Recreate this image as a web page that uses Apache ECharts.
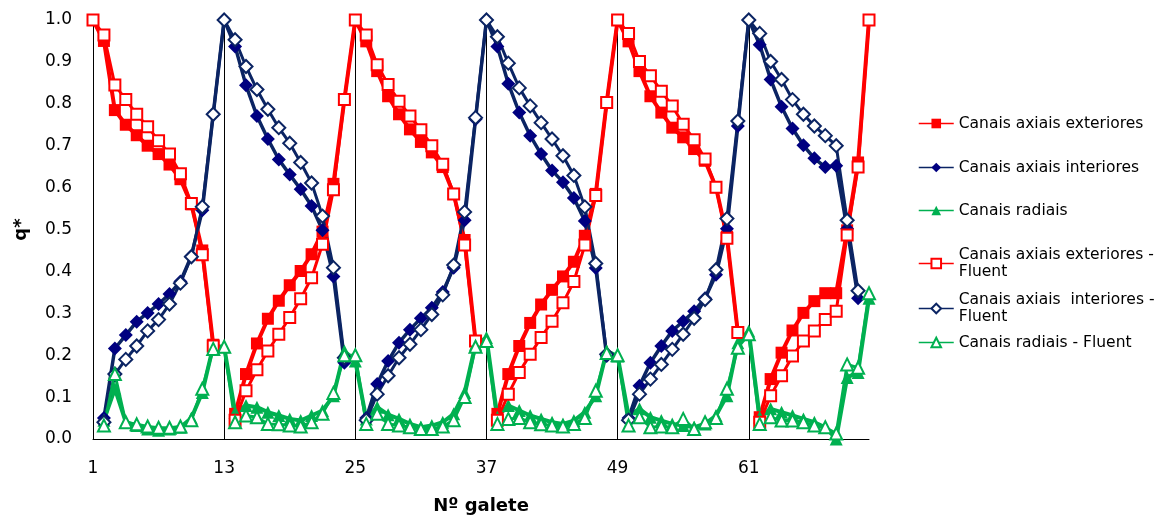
<!DOCTYPE html>
<html>
<head>
<meta charset="utf-8">
<script src="https://cdn.jsdelivr.net/npm/echarts@6/dist/echarts.min.js"></script>
<style>
  html, body { margin: 0; padding: 0; background: #ffffff; }
  #chart { width: 1165px; height: 520px; }
</style>
</head>
<body>
<div id="chart"></div>
<script>
// Galete numbers along the horizontal axis (1 .. 72)
const galetes = Array.from({ length: 72 }, (_, i) => String(i + 1));

// Normalised flow q* per galete; null where a channel has no value
const extObs = [
  1.0, 0.95, 0.785, 0.75, 0.725, 0.70, 0.68, 0.655, 0.62, 0.56, 0.45, 0.225,
  null,
  0.06, 0.155, 0.228, 0.287, 0.33, 0.367, 0.401, 0.441, 0.495, 0.609, 0.81, 1.0,
  0.949, 0.878, 0.818, 0.775, 0.739, 0.709, 0.684, 0.649, 0.585, 0.475, 0.234,
  null,
  0.06, 0.155, 0.222, 0.277, 0.321, 0.356, 0.388, 0.423, 0.485, 0.585, 0.803, 1.0,
  0.949, 0.878, 0.818, 0.779, 0.743, 0.72, 0.692, 0.664, 0.601, 0.483, 0.254,
  null,
  0.052, 0.143, 0.206, 0.259, 0.301, 0.329, 0.348, 0.348, 0.498, 0.66, 1.0
];

const intObs = [
  null,
  0.05, 0.216, 0.248, 0.28, 0.301, 0.322, 0.346, 0.376, 0.437, 0.546, 0.775, 1.0,
  0.937, 0.844, 0.771, 0.716, 0.667, 0.631, 0.596, 0.556, 0.498, 0.388, 0.182,
  null,
  0.05, 0.131, 0.186, 0.23, 0.261, 0.288, 0.313, 0.351, 0.409, 0.522, 0.763, 1.0,
  0.937, 0.848, 0.779, 0.724, 0.68, 0.641, 0.613, 0.575, 0.52, 0.408, 0.198,
  null,
  0.05, 0.127, 0.182, 0.222, 0.258, 0.281, 0.305, 0.336, 0.392, 0.502, 0.747, 1.0,
  0.941, 0.858, 0.793, 0.741, 0.701, 0.67, 0.649, 0.652, 0.502, 0.336,
  null
];

const radObs = [
  null,
  0.045, 0.12, 0.04, 0.032, 0.024, 0.021, 0.024, 0.028, 0.05, 0.111, 0.222,
  0.22,
  0.064, 0.08, 0.076, 0.064, 0.056, 0.048, 0.044, 0.056, 0.068, 0.103, 0.21, 0.186,
  0.048, 0.076, 0.058, 0.048, 0.036, 0.028, 0.032, 0.04, 0.06, 0.111, 0.226, 0.242,
  0.052, 0.08, 0.068, 0.056, 0.048, 0.04, 0.036, 0.044, 0.064, 0.103, 0.21, 0.198,
  0.056, 0.072, 0.052, 0.044, 0.036, 0.032, 0.028, 0.036, 0.056, 0.103, 0.23, 0.258,
  0.052, 0.072, 0.064, 0.056, 0.048, 0.04, 0.028, 0.0, 0.147, 0.159, 0.336
];

const extFluent = [
  1.0, 0.964, 0.845, 0.81, 0.775, 0.745, 0.712, 0.68, 0.633, 0.562, 0.44, 0.222,
  null,
  0.045, 0.115, 0.165, 0.21, 0.25, 0.29, 0.335, 0.385, 0.465, 0.595, 0.81, 1.0,
  0.964, 0.893, 0.846, 0.806, 0.771, 0.738, 0.70, 0.656, 0.585, 0.463, 0.234,
  null,
  0.045, 0.107, 0.159, 0.202, 0.242, 0.281, 0.325, 0.376, 0.463, 0.581, 0.803, 1.0,
  0.968, 0.901, 0.867, 0.83, 0.795, 0.751, 0.714, 0.668, 0.601, 0.479, 0.254,
  null,
  0.04, 0.103, 0.151, 0.198, 0.234, 0.258, 0.285, 0.305, 0.487, 0.649, 1.0
];

const intFluent = [
  null,
  0.04, 0.155, 0.19, 0.222, 0.258, 0.285, 0.322, 0.372, 0.435, 0.554, 0.775, 1.0,
  0.953, 0.889, 0.834, 0.787, 0.743, 0.706, 0.66, 0.611, 0.532, 0.409, 0.194,
  null,
  0.045, 0.107, 0.151, 0.194, 0.226, 0.261, 0.297, 0.344, 0.415, 0.542, 0.767, 1.0,
  0.96, 0.897, 0.838, 0.795, 0.755, 0.716, 0.676, 0.629, 0.554, 0.419, 0.202,
  null,
  0.045, 0.107, 0.143, 0.178, 0.214, 0.25, 0.288, 0.333, 0.404, 0.526, 0.759, 1.0,
  0.968, 0.901, 0.858, 0.81, 0.775, 0.747, 0.724, 0.70, 0.522, 0.354,
  null
];

const radFluent = [
  null,
  0.032, 0.155, 0.04, 0.035, 0.03, 0.027, 0.027, 0.03, 0.045, 0.12, 0.215,
  0.22,
  0.04, 0.056, 0.052, 0.036, 0.035, 0.032, 0.03, 0.04, 0.06, 0.11, 0.2, 0.2,
  0.036, 0.06, 0.036, 0.032, 0.028, 0.024, 0.024, 0.03, 0.045, 0.1, 0.22, 0.234,
  0.036, 0.048, 0.05, 0.04, 0.035, 0.032, 0.03, 0.036, 0.05, 0.115, 0.205, 0.2,
  0.032, 0.052, 0.028, 0.03, 0.028, 0.048, 0.024, 0.04, 0.05, 0.12, 0.218, 0.25,
  0.036, 0.052, 0.044, 0.044, 0.04, 0.032, 0.028, 0.013, 0.178, 0.17, 0.348
];

const seriesNames = [
  'Canais axiais exteriores',
  'Canais axiais interiores',
  'Canais radiais',
  'Canais axiais exteriores - Fluent',
  'Canais axiais  interiores - Fluent',
  'Canais radiais - Fluent'
];

// Wrapped legend text for the two long entries
const legendText = {
  'Canais axiais exteriores - Fluent': 'Canais axiais exteriores -\nFluent',
  'Canais axiais  interiores - Fluent': 'Canais axiais  interiores -\nFluent'
};

const RED = '#ff0000';
const NAVY = '#000080';
const NAVY_LINE = '#0b2463';
const GREEN = '#00b050';
const FONT = 'DejaVu Sans';

function lineSeries(name, data, color, lineColor, symbol, size, width) {
  return {
    name: name,
    type: 'line',
    data: data,
    connectNulls: false,
    symbol: symbol,
    symbolSize: size,
    showAllSymbol: true,
    color: color,
    lineStyle: { color: lineColor, width: width },
    itemStyle: { color: color, borderColor: lineColor, borderWidth: symbol.indexOf('empty') === 0 ? 1.5 : 0 },
    emphasis: { disabled: true },
    animation: false
  };
}

// One legend block per entry so each row sits at its own height
const legendTops = [110, 154, 197, 233, 278, 329];
const legends = seriesNames.map((name, i) => {
  const wrapped = !!legendText[name];
  return {
    data: [name],
    left: 913,
    top: legendTops[i],
    orient: 'vertical',
    itemWidth: 35,
    itemHeight: 12,
    itemGap: 0,
    selectedMode: false,
    lineStyle: { width: 1.5 },
    formatter: (n) => legendText[n] || n,
    textStyle: {
      fontFamily: FONT,
      fontSize: 15.5,
      color: '#000',
      lineHeight: 17,
      padding: wrapped ? [17, 0, 0, 0] : 0
    }
  };
});

const chart = echarts.init(document.getElementById('chart'), null, { renderer: 'canvas' });

chart.setOption({
  backgroundColor: '#ffffff',
  animation: false,
  legend: legends,
  grid: { left: 93, right: 296, top: 20, bottom: 78, containLabel: false },
  xAxis: {
    type: 'category',
    data: galetes,
    boundaryGap: false,
    name: 'Nº galete',
    nameLocation: 'middle',
    nameGap: 58,
    nameTextStyle: { fontFamily: FONT, fontSize: 18, fontWeight: 'bold', color: '#000' },
    axisLine: { lineStyle: { color: '#000', width: 1 } },
    axisTick: { show: false },
    axisLabel: { interval: 11, margin: 21, fontFamily: FONT, fontSize: 17, color: '#000' },
    splitLine: { show: true, interval: 11, lineStyle: { color: '#000', width: 1 } }
  },
  yAxis: {
    type: 'value',
    min: 0,
    max: 1,
    interval: 0.1,
    name: 'q*',
    nameLocation: 'middle',
    nameGap: 63,
    nameTextStyle: { fontFamily: FONT, fontSize: 18, fontWeight: 'bold', color: '#000' },
    axisLine: { show: true, lineStyle: { color: '#000', width: 1 } },
    axisTick: { show: false },
    axisLabel: { margin: 21, fontFamily: FONT, fontSize: 17, color: '#000', formatter: (v) => v.toFixed(1) },
    splitLine: { show: false }
  },
  series: [
    lineSeries(seriesNames[0], extObs, RED, RED, 'rect', 12, 4),
    lineSeries(seriesNames[1], intObs, NAVY, NAVY_LINE, 'diamond', 14, 3.5),
    lineSeries(seriesNames[2], radObs, GREEN, GREEN, 'triangle', 13, 4),
    lineSeries(seriesNames[3], extFluent, RED, RED, 'emptyRect', 11, 3),
    lineSeries(seriesNames[4], intFluent, NAVY_LINE, NAVY_LINE, 'emptyDiamond', 13, 3),
    lineSeries(seriesNames[5], radFluent, GREEN, GREEN, 'emptyTriangle', 12, 3)
  ]
});
</script>
</body>
</html>
